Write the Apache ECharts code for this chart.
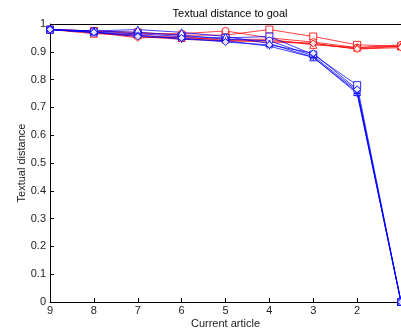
<!DOCTYPE html>
<html><head><meta charset="utf-8">
<script src="https://cdn.jsdelivr.net/npm/echarts@6/dist/echarts.min.js"></script>
<style>html,body{margin:0;padding:0;background:#fff}#c{width:401px;height:333px}</style>
</head><body><div id="c"></div>
<script>
var articles = [9, 8, 7, 6, 5, 4, 3, 2, 1];
var yTicks = [0, 0.1, 0.2, 0.3, 0.4, 0.5, 0.6, 0.7, 0.8, 0.9, 1];

var blueSquare   = [0.98, 0.97, 0.965, 0.955, 0.95, 0.955, 0.89, 0.78, 0];
var blueCircle   = [0.98, 0.975, 0.97, 0.96, 0.945, 0.94, 0.885, 0.76, 0];
var blueTriangle = [0.98, 0.975, 0.98, 0.97, 0.955, 0.93, 0.88, 0.755, 0];
var blueStar     = [0.98, 0.97, 0.96, 0.945, 0.94, 0.92, 0.88, 0.75, 0];
var blueDiamond  = [0.98, 0.97, 0.955, 0.95, 0.935, 0.925, 0.895, 0.765, 0];

var redSquare    = [0.98, 0.975, 0.97, 0.96, 0.96, 0.98, 0.955, 0.925, 0.92];
var redCircle    = [0.98, 0.975, 0.965, 0.965, 0.975, 0.95, 0.935, 0.915, 0.925];
var redStar      = [0.98, 0.97, 0.955, 0.945, 0.94, 0.94, 0.93, 0.91, 0.92];
var redTriangle  = [0.98, 0.965, 0.96, 0.95, 0.945, 0.945, 0.925, 0.915, 0.92];
var redDiamond   = [0.98, 0.97, 0.95, 0.955, 0.94, 0.935, 0.93, 0.91, 0.915];

var starPath = 'path://M0,-10 L0,10 M-10,0 L10,0 M-7,-7 L7,7 M-7,7 L7,-7';

function mk(name, vals, color, symbol) {
  return {
    name: name, type: 'line',
    data: articles.map(function (a, i) { return [a, vals[i]]; }),
    symbol: symbol, symbolSize: 7,
    lineStyle: { color: color, width: 1, opacity: 0.75 },
    itemStyle: { color: '#fff', borderColor: color, borderWidth: 1, opacity: 0.85 },
    emphasis: { disabled: true },
    animation: false
  };
}

var series = [
  mk('rs', redSquare, '#ff0000', 'rect'),
  mk('rc', redCircle, '#ff0000', 'circle'),
  mk('rx', redStar, '#ff0000', starPath),
  mk('rt', redTriangle, '#ff0000', 'triangle'),
  mk('rd', redDiamond, '#ff0000', 'diamond'),
  mk('bs', blueSquare, '#0000ff', 'rect'),
  mk('bc', blueCircle, '#0000ff', 'circle'),
  mk('bt', blueTriangle, '#0000ff', 'triangle'),
  mk('bx', blueStar, '#0000ff', starPath),
  mk('bd', blueDiamond, '#0000ff', 'diamond')
];

var font = 'Liberation Sans, Arial, sans-serif';
var chart = echarts.init(document.getElementById('c'), null, { renderer: 'canvas' });
chart.setOption({
  animation: false,
  backgroundColor: '#fff',
  title: {
    text: 'Textual distance to goal', left: 225, top: 3, textAlign: 'center',
    textStyle: { fontFamily: font, fontSize: 11, fontWeight: 'normal', color: '#000' }
  },
  grid: { left: 50, right: 0, top: 24, bottom: 31, containLabel: false, outerBoundsMode: 'none', show: false },
  xAxis: {
    type: 'value', min: 1, max: 9, interval: 1, inverse: true,
    name: 'Current article', nameLocation: 'middle', nameGap: 16, nameMoveOverlap: false,
    nameTextStyle: { fontFamily: font, fontSize: 11, color: '#222' },
    axisLine: { show: true, onZero: false, lineStyle: { color: '#000', width: 1 } },
    axisTick: { show: true, inside: true, length: 4, lineStyle: { color: '#000' } },
    axisLabel: { fontFamily: font, fontSize: 11, color: '#222', margin: 3,
      formatter: function (v) { return v === 1 ? '' : String(v); } },
    splitLine: { show: false }
  },
  yAxis: {
    type: 'value', min: 0, max: 1, interval: 0.1,
    name: 'Textual distance', nameLocation: 'middle', nameGap: 23, nameRotate: 90, nameMoveOverlap: false,
    nameTextStyle: { fontFamily: font, fontSize: 11, color: '#222' },
    axisLine: { show: true, lineStyle: { color: '#000', width: 1 } },
    axisTick: { show: true, inside: true, length: 4, lineStyle: { color: '#000' } },
    axisLabel: { fontFamily: font, fontSize: 11, color: '#222', margin: 4,
      formatter: function (v) {
        var t = yTicks.filter(function (k) { return Math.abs(k - v) < 1e-9; })[0];
        return t === undefined ? '' : String(t);
      } },
    splitLine: { show: false }
  },
  series: series.concat([{
    type: 'line', data: [], silent: true,
    markLine: {
      silent: true, symbol: 'none', animation: false,
      lineStyle: { color: '#000', width: 1, type: 'solid' },
      label: { show: false },
      data: [[{ coord: [9, 1] }, { coord: [1, 1] }]]
    }
  }])
});
</script></body></html>
